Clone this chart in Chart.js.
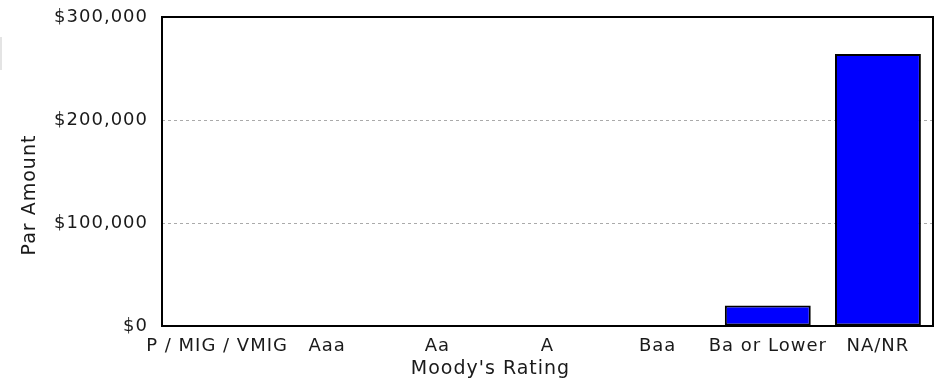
<!DOCTYPE html>
<html>
<head>
<meta charset="utf-8">
<script src="https://cdn.jsdelivr.net/npm/chart.js@4"></script>
<style>
  html, body { margin: 0; padding: 0; background: #fff; }
  #wrap { position: relative; width: 936px; height: 382px; }
  #mark { position: absolute; left: 0; top: 37px; width: 2px; height: 33px; background: #e4e4e4; }
</style>
</head>
<body>
<div id="wrap">
  <canvas id="c" width="936" height="382"></canvas>
  <div id="mark"></div>
</div>
<script>
const categories = ["P / MIG / VMIG", "Aaa", "Aa", "A", "Baa", "Ba or Lower", "NA/NR"];
const parAmounts = [500, 500, 500, 500, 500, 20000, 264000];
const yTicks = [0, 100000, 200000, 300000];
const yTitle = "Par Amount";
const xTitle = "Moody's Rating";

const FAMILY = "'DejaVu Sans', Verdana, sans-serif";
const TICK_FONT = { family: FAMILY, size: 18 };
const TITLE_SIZE = 19;
const TEXT = '#1a1a1a';
const SPACING = '1px';

const spacingPlugin = {
  id: 'spacing',
  beforeLayout(chart) { chart.ctx.letterSpacing = SPACING; },
  beforeDraw(chart) { chart.ctx.letterSpacing = SPACING; }
};
const framePlugin = {
  id: 'frame',
  afterDatasetsDraw(chart) {
    const a = chart.chartArea, ctx = chart.ctx;
    ctx.save();
    ctx.strokeStyle = '#000';
    ctx.lineWidth = 2;
    ctx.strokeRect(a.left, a.top, a.right - a.left, a.bottom - a.top);
    ctx.restore();
  }
};
// Axis titles: placed like the original (centred on the figure, not the plot box)
const titlePlugin = {
  id: 'axisTitles',
  afterDraw(chart) {
    const ctx = chart.ctx;
    const W = chart.width;
    ctx.save();
    ctx.letterSpacing = SPACING;
    ctx.font = TITLE_SIZE + 'px ' + FAMILY;
    ctx.fillStyle = TEXT;
    ctx.textAlign = 'center';
    ctx.textBaseline = 'middle';
    ctx.fillText(xTitle, (45 + W) / 2, chart.height - 13);
    ctx.translate(30, 195);
    ctx.rotate(-Math.PI / 2);
    ctx.fillText(yTitle, 0, 0);
    ctx.restore();
  }
};

function money(v) {
  return '$' + Number(v).toLocaleString('en-US');
}

new Chart(document.getElementById('c'), {
  type: 'bar',
  data: {
    labels: categories,
    datasets: [{
      data: parAmounts,
      backgroundColor: '#0000ff',
      borderColor: '#000',
      borderWidth: 2,
      borderSkipped: false,
      barPercentage: 0.78,
      categoryPercentage: 1.0
    }]
  },
  options: {
    responsive: false,
    animation: false,
    devicePixelRatio: 1,
    layout: { padding: { top: 17, right: 3, left: 0, bottom: 0 } },
    plugins: { legend: { display: false }, tooltip: { enabled: false } },
    scales: {
      x: {
        grid: { display: false, drawTicks: false },
        border: { display: false },
        ticks: { color: TEXT, font: TICK_FONT, autoSkip: false, maxRotation: 0, minRotation: 0, padding: 10 },
        title: { display: false, text: xTitle },
        afterFit(s) { s.height = 56; s.paddingLeft = 0; s.paddingRight = 0; }
      },
      y: {
        min: 0, max: 300000,
        afterBuildTicks(s) { s.ticks = yTicks.map(v => ({ value: v })); },
        grid: {
          color: (c) => (c.tick && (c.tick.value === 0 || c.tick.value === 300000)) ? 'rgba(0,0,0,0)' : '#aaa',
          lineWidth: 1,
          drawTicks: false
        },
        border: { display: false, dash: [3, 3] },
        ticks: { color: TEXT, font: TICK_FONT, padding: 14, callback: (v) => money(v) },
        title: { display: false, text: yTitle },
        afterFit(s) { s.width = 162; s.paddingTop = 0; s.paddingBottom = 0; }
      }
    }
  },
  plugins: [spacingPlugin, framePlugin, titlePlugin]
});
</script>
</body>
</html>
